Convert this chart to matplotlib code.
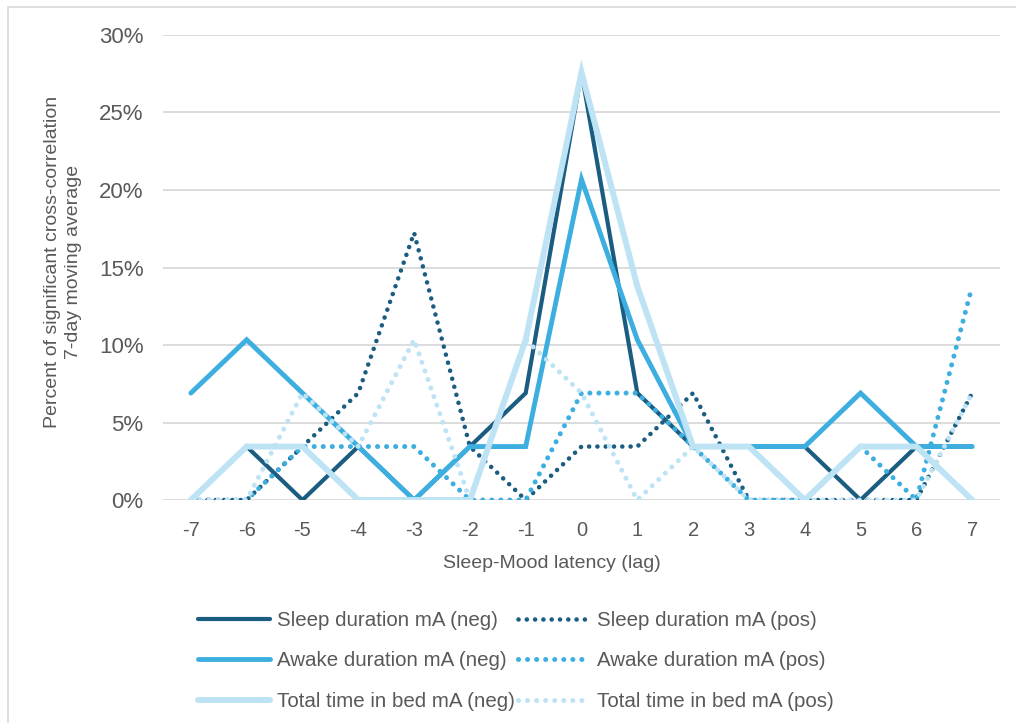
import matplotlib.pyplot as plt
from matplotlib.patches import Rectangle
from matplotlib.ticker import FuncFormatter

plt.rcParams['font.family'] = ['Liberation Sans', 'DejaVu Sans']
plt.rcParams['axes.unicode_minus'] = False

# lag values on the x axis
lags = [-7, -6, -5, -4, -3, -2, -1, 0, 1, 2, 3, 4, 5, 6, 7]

# percent of significant cross-correlations
sleep_neg = [0, 3.45, 0, 3.45, 0, 3.45, 6.9, 27.59, 6.9, 3.45, 3.45, 3.45, 0, 3.45, 3.45]
sleep_pos = [0, 0, 3.45, 6.9, 17.24, 3.45, 0, 3.45, 3.45, 6.9, 0, 0, 0, 0, 6.9]
awake_neg = [6.9, 10.34, 6.9, 3.45, 0, 3.45, 3.45, 20.69, 10.34, 3.45, 3.45, 3.45, 6.9, 3.45, 3.45]
awake_pos = [0, 0, 3.45, 3.45, 3.45, 0, 0, 6.9, 6.9, 3.45, 0, 0, 3.45, 0, 13.79]
bed_neg = [0, 3.45, 3.45, 0, 0, 0, 10.34, 27.59, 13.79, 3.45, 3.45, 0, 3.45, 3.45, 0]
bed_pos = [0, 0, 6.9, 3.45, 10.34, 0, 10.34, 6.9, 0, 3.45, 0, 0, 0, 0, 6.9]

labels = ['Sleep duration mA (neg)', 'Sleep duration mA (pos)',
          'Awake duration mA (neg)', 'Awake duration mA (pos)',
          'Total time in bed mA (neg)', 'Total time in bed mA (pos)']

dark = '#1a5d80'
mid = '#3daee0'
light = '#bde3f4'
txt = '#595959'

fig = plt.figure(figsize=(10.16, 7.23), dpi=100)
ax = fig.add_axes([0.1604, 0.3084, 0.8239, 0.6432])

# outer chart border (only top/left visible in the crop)
fig.patches.append(Rectangle((8 / 1016, -0.05), 1.2, 1 - 7 / 723 + 0.05,
                             transform=fig.transFigure, fill=False,
                             edgecolor='#d9d9d9', linewidth=1.2))

dot = lambda s: (0, (0.01, s))

h1, = ax.plot(lags, sleep_neg, color=dark, lw=3.0, solid_joinstyle='miter', solid_capstyle='round')
h2, = ax.plot(lags, sleep_pos, color=dark, lw=3.3, ls=dot(1.8), dash_capstyle='round')
h3, = ax.plot(lags, awake_neg, color=mid, lw=3.5, solid_joinstyle='miter', solid_capstyle='round')
h4, = ax.plot(lags, awake_pos, color=mid, lw=3.6, ls=dot(1.8), dash_capstyle='round')
h5, = ax.plot(lags, bed_neg, color=light, lw=4.3, solid_joinstyle='miter', solid_capstyle='round')
h6, = ax.plot(lags, bed_pos, color=light, lw=3.6, ls=dot(1.8), dash_capstyle='round')

ax.set_xlim(-7.5, 7.5)
ax.set_ylim(0, 30)
ax.set_xticks(lags)
ax.set_yticks([0, 5, 10, 15, 20, 25, 30])
ax.yaxis.set_major_formatter(FuncFormatter(lambda v, p: f'{v:.0f}%'))
ax.tick_params(axis='both', length=0, labelcolor=txt)
ax.tick_params(axis='y', pad=14, labelsize=16)
ax.tick_params(axis='x', pad=15, labelsize=14.5)
ax.grid(axis='y', color='#d9d9d9', lw=1.3)
ax.set_axisbelow(True)
for s in ax.spines.values():
    s.set_visible(False)

ax.set_xlabel('Sleep-Mood latency (lag)', fontsize=14, color=txt)
ax.xaxis.set_label_coords((552 - 163) / 837, (500 - 563) / 465)
ax.xaxis.label.set_va('center')

fig.text(63 / 1016, 1 - 262 / 723,
         'Percent of significant cross-correlation\n7-day moving average',
         rotation=90, ha='center', va='center', multialignment='center',
         fontsize=14, color=txt, linespacing=1.3)

# legend: matplotlib fills columns first, so order neg in col 1, pos in col 2
leg = fig.legend([h1, h3, h5, h2, h4, h6],
                 [labels[0], labels[2], labels[4], labels[1], labels[3], labels[5]],
                 ncol=2, loc='center', bbox_to_anchor=(516 / 1016, 1 - 661 / 723),
                 frameon=False, fontsize=14.8, handlelength=3.5, handletextpad=0.35,
                 columnspacing=0.15, labelspacing=1.05, borderpad=0)
for t in leg.get_texts():
    t.set_color(txt)

fig.savefig('out.png', dpi=100)
